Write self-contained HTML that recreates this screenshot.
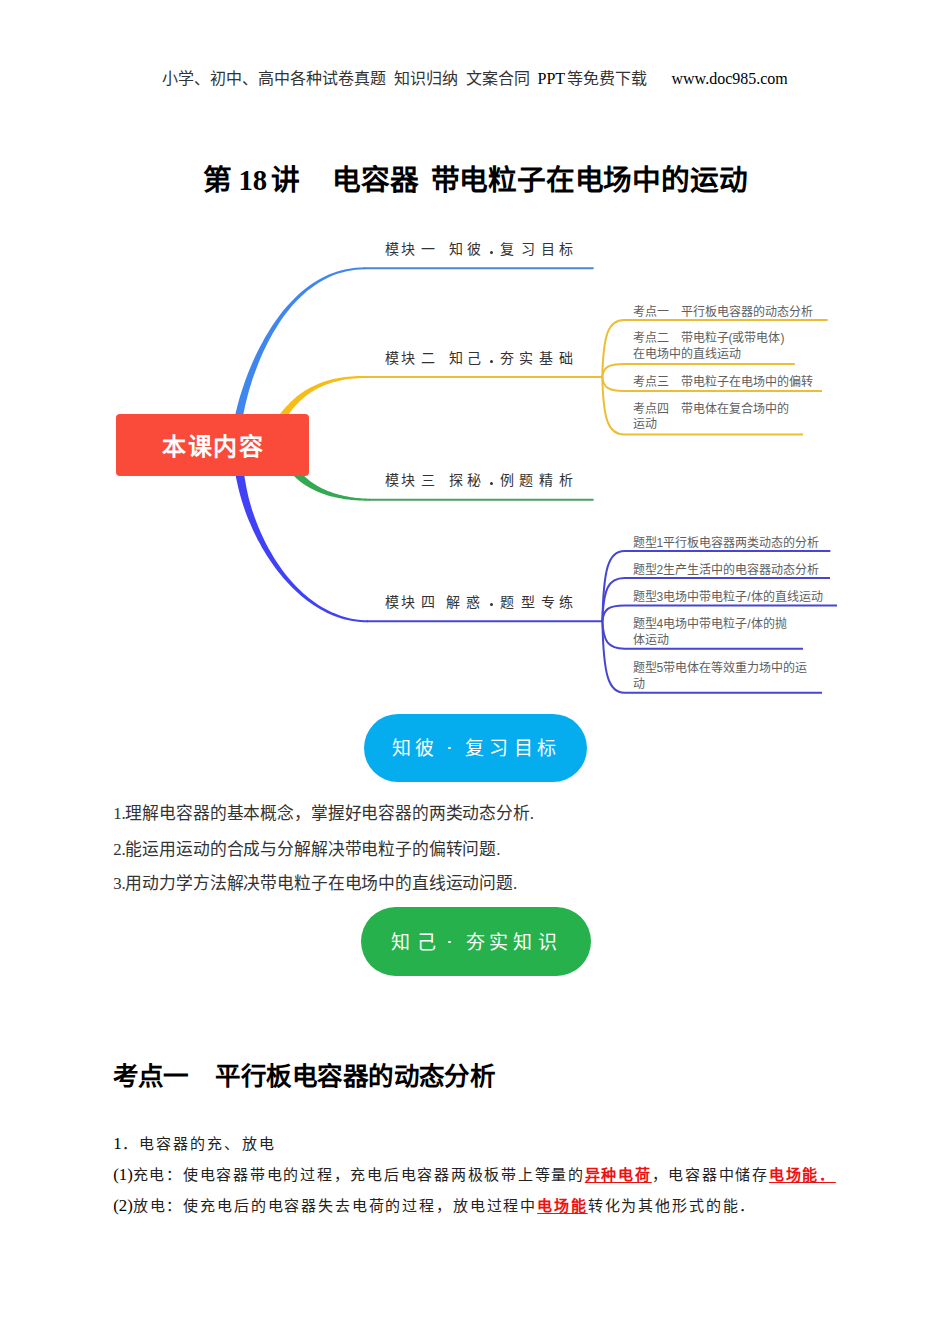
<!DOCTYPE html>
<html lang="zh-CN"><head><meta charset="utf-8"><title>第18讲 电容器 带电粒子在电场中的运动</title>
<style>
html,body{margin:0;padding:0;background:#fff}
body{width:950px;height:1344px;position:relative;overflow:hidden;color:#000}
.a{position:absolute;white-space:nowrap;line-height:1}
.sf{font-family:"Liberation Serif",serif}
.ss{font-family:"Liberation Sans",sans-serif}
.b{font-weight:bold}
.g{display:inline-block;width:12px}
.g2{display:inline-block;width:26.5px}
.sp{letter-spacing:0.2px}
.r{color:#EE1111;font-weight:bold;text-decoration:underline;text-decoration-thickness:1px;text-underline-offset:2px}
.C{font-size:15px;color:#222}
.L{letter-spacing:0}
</style></head><body>
<svg width="950" height="1344" viewBox="0 0 950 1344" style="position:absolute;left:0;top:0"><path d="M241.4,439.3 L241.3,438.4 L241.2,437.3 L241.1,436.0 L241.1,434.4 L241.1,432.6 L241.2,430.6 L241.4,428.5 L241.6,426.1 L241.9,423.6 L242.3,420.9 L242.7,418.1 L243.3,415.1 L243.8,412.0 L244.5,408.8 L245.2,405.5 L246.0,402.1 L246.9,398.5 L247.8,394.9 L248.8,391.2 L249.9,387.5 L251.1,383.7 L252.3,379.8 L253.7,375.8 L255.1,371.9 L256.6,367.9 L258.1,363.9 L259.8,359.8 L261.5,355.8 L263.3,351.7 L265.3,347.7 L267.2,343.7 L269.3,339.7 L271.5,335.7 L273.7,331.8 L276.1,327.9 L278.5,324.1 L281.0,320.3 L283.6,316.6 L286.3,313.0 L289.1,309.5 L291.9,306.1 L294.9,302.7 L298.0,299.5 L301.1,296.4 L304.4,293.4 L307.7,290.6 L311.2,287.9 L314.7,285.4 L318.3,283.0 L322.1,280.7 L325.9,278.7 L329.8,276.8 L333.9,275.1 L338.0,273.6 L342.2,272.4 L346.6,271.3 L351.0,270.4 L355.6,269.8 L360.2,269.4 L365.0,269.3 L365.0,267.3 L360.1,267.4 L355.4,267.8 L350.7,268.4 L346.1,269.2 L341.7,270.2 L337.3,271.5 L333.0,272.9 L328.9,274.6 L324.8,276.4 L320.8,278.5 L316.9,280.7 L313.2,283.1 L309.5,285.6 L305.9,288.3 L302.4,291.1 L299.0,294.1 L295.6,297.2 L292.4,300.4 L289.3,303.7 L286.3,307.1 L283.3,310.6 L280.4,314.3 L277.7,318.0 L275.0,321.7 L272.4,325.5 L269.9,329.4 L267.5,333.4 L265.1,337.3 L262.9,341.4 L260.7,345.4 L258.6,349.4 L256.6,353.5 L254.7,357.6 L252.9,361.6 L251.1,365.7 L249.4,369.7 L247.8,373.7 L246.3,377.7 L244.9,381.6 L243.6,385.4 L242.3,389.2 L241.1,393.0 L240.0,396.6 L238.9,400.2 L238.0,403.7 L237.1,407.1 L236.3,410.4 L235.5,413.6 L234.9,416.6 L234.3,419.6 L233.8,422.3 L233.3,425.0 L233.0,427.5 L232.7,429.9 L232.5,432.1 L232.3,434.1 L232.3,436.0 L232.3,437.8 L232.4,439.4 L232.6,440.7Z" fill="#3F87EF"/><path d="M364.0,268.3 L593.6,268.3" stroke="#4B85D2" stroke-width="2" fill="none"/><path d="M268.4,443.7 L269.3,442.8 L270.2,441.8 L271.1,440.7 L272.0,439.6 L272.8,438.5 L273.7,437.4 L274.5,436.2 L275.3,435.0 L276.1,433.8 L276.9,432.5 L277.7,431.3 L278.5,430.0 L279.3,428.7 L280.1,427.3 L281.0,426.0 L281.8,424.6 L282.7,423.2 L283.6,421.8 L284.5,420.4 L285.4,419.0 L286.3,417.6 L287.3,416.2 L288.3,414.8 L289.3,413.3 L290.4,411.9 L291.5,410.5 L292.6,409.1 L293.8,407.7 L295.0,406.2 L296.3,404.8 L297.6,403.5 L298.9,402.1 L300.3,400.7 L301.8,399.4 L303.3,398.1 L304.9,396.8 L306.5,395.5 L308.2,394.3 L309.9,393.0 L311.7,391.8 L313.6,390.7 L315.6,389.6 L317.6,388.5 L319.7,387.4 L321.9,386.4 L324.1,385.4 L326.4,384.5 L328.9,383.7 L331.4,382.8 L333.9,382.1 L336.6,381.4 L339.4,380.7 L342.2,380.1 L345.2,379.6 L348.2,379.1 L351.4,378.8 L354.6,378.4 L358.0,378.2 L361.4,378.1 L365.0,378.0 L365.0,376.0 L361.4,376.0 L357.9,376.1 L354.5,376.3 L351.2,376.5 L348.0,376.8 L344.8,377.1 L341.8,377.5 L338.9,378.0 L336.0,378.5 L333.2,379.1 L330.5,379.8 L327.9,380.5 L325.3,381.3 L322.8,382.1 L320.4,383.0 L318.1,383.9 L315.9,384.9 L313.7,385.9 L311.5,386.9 L309.5,388.0 L307.5,389.2 L305.5,390.3 L303.7,391.5 L301.9,392.8 L300.1,394.0 L298.4,395.3 L296.7,396.6 L295.1,398.0 L293.6,399.3 L292.1,400.7 L290.6,402.1 L289.2,403.5 L287.9,404.9 L286.5,406.3 L285.3,407.7 L284.0,409.1 L282.8,410.5 L281.6,411.9 L280.5,413.3 L279.4,414.7 L278.3,416.1 L277.3,417.4 L276.3,418.8 L275.3,420.1 L274.3,421.4 L273.3,422.7 L272.4,424.0 L271.5,425.2 L270.6,426.4 L269.7,427.5 L268.8,428.6 L268.0,429.7 L267.2,430.7 L266.3,431.7 L265.5,432.6 L264.7,433.4 L263.9,434.2 L263.2,435.0 L262.4,435.7 L261.6,436.3Z" fill="#F6BD16"/><path d="M364.0,377.0 L602.5,377.0" stroke="#EDBD35" stroke-width="2" fill="none"/><path d="M280.4,457.0 L281.2,458.5 L282.0,460.1 L282.9,461.6 L283.8,463.2 L284.7,464.6 L285.7,466.1 L286.6,467.5 L287.7,468.9 L288.7,470.2 L289.8,471.5 L290.9,472.8 L292.0,474.1 L293.2,475.3 L294.4,476.5 L295.6,477.6 L296.8,478.8 L298.1,479.8 L299.4,480.9 L300.7,481.9 L302.1,482.9 L303.4,483.9 L304.8,484.8 L306.2,485.7 L307.6,486.6 L309.1,487.4 L310.6,488.3 L312.0,489.1 L313.6,489.8 L315.1,490.5 L316.6,491.2 L318.2,491.9 L319.8,492.6 L321.4,493.2 L323.0,493.8 L324.6,494.3 L326.3,494.9 L328.0,495.4 L329.6,495.9 L331.3,496.4 L333.1,496.8 L334.8,497.2 L336.5,497.6 L338.3,498.0 L340.1,498.3 L341.8,498.6 L343.6,498.9 L345.4,499.2 L347.3,499.4 L349.1,499.6 L351.0,499.9 L352.8,500.0 L354.7,500.2 L356.6,500.3 L358.5,500.4 L360.4,500.5 L362.3,500.6 L364.2,500.7 L366.1,500.7 L368.1,500.7 L370.0,500.7 L370.0,498.7 L368.1,498.7 L366.2,498.6 L364.3,498.5 L362.4,498.4 L360.5,498.3 L358.6,498.1 L356.8,498.0 L354.9,497.7 L353.1,497.5 L351.3,497.2 L349.5,496.9 L347.7,496.6 L345.9,496.3 L344.2,495.9 L342.5,495.5 L340.7,495.1 L339.0,494.7 L337.4,494.2 L335.7,493.7 L334.1,493.2 L332.5,492.7 L330.9,492.1 L329.3,491.5 L327.7,490.9 L326.2,490.3 L324.7,489.6 L323.2,488.9 L321.7,488.2 L320.3,487.5 L318.9,486.7 L317.5,485.9 L316.1,485.1 L314.8,484.3 L313.5,483.4 L312.2,482.6 L310.9,481.7 L309.7,480.7 L308.5,479.8 L307.3,478.8 L306.1,477.8 L305.0,476.8 L303.9,475.8 L302.9,474.7 L301.8,473.6 L300.8,472.5 L299.9,471.4 L298.9,470.2 L298.0,469.0 L297.1,467.8 L296.3,466.6 L295.5,465.4 L294.7,464.1 L294.0,462.8 L293.2,461.5 L292.5,460.1 L291.9,458.8 L291.3,457.4 L290.7,456.0 L290.1,454.5 L289.6,453.0Z" fill="#34A853"/><path d="M369.0,499.7 L593.6,499.7" stroke="#48A060" stroke-width="2" fill="none"/><path d="M233.0,444.9 L233.0,448.7 L233.2,452.5 L233.4,456.4 L233.7,460.3 L234.1,464.2 L234.6,468.2 L235.2,472.2 L235.8,476.2 L236.6,480.2 L237.5,484.2 L238.4,488.2 L239.4,492.3 L240.5,496.3 L241.7,500.4 L243.0,504.4 L244.3,508.4 L245.7,512.4 L247.2,516.4 L248.8,520.4 L250.5,524.3 L252.2,528.3 L254.0,532.2 L255.9,536.0 L257.8,539.9 L259.9,543.6 L261.9,547.4 L264.1,551.1 L266.3,554.7 L268.6,558.3 L271.0,561.8 L273.4,565.3 L275.9,568.7 L278.4,572.0 L281.1,575.3 L283.7,578.5 L286.5,581.6 L289.3,584.6 L292.1,587.5 L295.0,590.3 L298.0,593.1 L301.0,595.7 L304.1,598.3 L307.3,600.7 L310.5,603.0 L313.7,605.2 L317.0,607.3 L320.3,609.3 L323.7,611.1 L327.2,612.9 L330.7,614.5 L334.2,615.9 L337.8,617.2 L341.4,618.4 L345.1,619.4 L348.8,620.3 L352.6,621.0 L356.4,621.6 L360.2,622.0 L364.1,622.2 L368.0,622.3 L368.0,620.3 L364.2,620.2 L360.4,619.9 L356.6,619.5 L352.9,618.9 L349.3,618.2 L345.7,617.3 L342.1,616.2 L338.6,615.0 L335.1,613.6 L331.7,612.2 L328.3,610.5 L325.0,608.8 L321.7,606.9 L318.5,604.9 L315.3,602.8 L312.2,600.6 L309.2,598.2 L306.2,595.8 L303.2,593.2 L300.4,590.5 L297.5,587.8 L294.8,584.9 L292.1,582.0 L289.4,579.0 L286.9,575.9 L284.3,572.7 L281.9,569.4 L279.5,566.1 L277.2,562.7 L274.9,559.2 L272.8,555.7 L270.7,552.1 L268.6,548.5 L266.6,544.8 L264.7,541.1 L262.9,537.3 L261.2,533.5 L259.5,529.7 L257.9,525.8 L256.4,522.0 L254.9,518.1 L253.5,514.1 L252.2,510.2 L251.0,506.3 L249.9,502.3 L248.8,498.4 L247.9,494.4 L247.0,490.5 L246.2,486.5 L245.5,482.6 L244.8,478.7 L244.3,474.8 L243.8,471.0 L243.4,467.2 L243.1,463.4 L242.9,459.7 L242.8,456.0 L242.8,452.3 L242.8,448.7 L243.0,445.1Z" fill="#4141F5"/><path d="M367.0,621.3 L602.5,621.3" stroke="#4646D2" stroke-width="2" fill="none"/><path d="M602.3,377.0 C603.3,334.2 608.3,320.0 624.3,320.0 L827.7,320.0" stroke="#EDBD35" stroke-width="2" fill="none"/><path d="M602.3,377.0 C603.3,367.2 608.3,364.0 624.3,364.0 L794.8,364.0" stroke="#EDBD35" stroke-width="2" fill="none"/><path d="M602.3,377.0 C603.3,387.5 608.3,391.0 624.3,391.0 L822.0,391.0" stroke="#EDBD35" stroke-width="2" fill="none"/><path d="M602.3,377.0 C603.3,420.1 608.3,434.5 624.3,434.5 L803.0,434.5" stroke="#EDBD35" stroke-width="2" fill="none"/><path d="M602.4,621.3 C603.4,568.6 608.4,551.0 624.4,551.0 L830.4,551.0" stroke="#4646D2" stroke-width="2" fill="none"/><path d="M602.4,621.3 C603.4,588.9 608.4,578.1 624.4,578.1 L830.0,578.1" stroke="#4646D2" stroke-width="2" fill="none"/><path d="M602.4,621.3 C603.4,609.4 608.4,605.4 624.4,605.4 L837.0,605.4" stroke="#4646D2" stroke-width="2" fill="none"/><path d="M602.4,621.3 C603.4,641.9 608.4,648.7 624.4,648.7 L803.0,648.7" stroke="#4646D2" stroke-width="2" fill="none"/><path d="M602.4,621.3 C603.4,674.9 608.4,692.7 624.4,692.7 L822.0,692.7" stroke="#4646D2" stroke-width="2" fill="none"/></svg>
<div class="a sf" style="left:162.3px;top:71.0px;font-size:16.00px;color:#333">小学、初中、高中各种试卷真题</div>
<div class="a sf" style="left:393.5px;top:71.0px;font-size:16.00px;color:#333">知识归纳</div>
<div class="a sf" style="left:466.0px;top:71.0px;font-size:16.00px;color:#333">文案合同</div>
<div class="a sf" style="left:537.5px;top:71.0px;font-size:16.00px;">PPT</div>
<div class="a sf" style="left:567.0px;top:71.0px;font-size:16.00px;color:#333">等免费下载</div>
<div class="a sf" style="left:671.5px;top:71.0px;font-size:16.00px;">www.doc985.com</div>
<div class="a sf b" style="left:202.5px;top:166.0px;font-size:28.70px;">第</div>
<div class="a sf b" style="left:238.5px;top:166.0px;font-size:28.70px;">18</div>
<div class="a sf b" style="left:270.5px;top:166.0px;font-size:28.70px;">讲</div>
<div class="a sf b" style="left:332.0px;top:166.0px;font-size:28.70px;">电容器</div>
<div class="a sf b" style="left:430.5px;top:166.0px;font-size:28.70px;letter-spacing:-0.2px">带电粒子在电场中的运动</div>
<div style="position:absolute;left:116px;top:413.5px;width:193px;height:62.5px;background:#FA4A3A;border-radius:4px"></div>
<div class="a ss b" style="left:162.0px;top:435.0px;font-size:24.00px;color:#fff;letter-spacing:1.6px">本课内容</div>
<div class="a ss" style="left:384.5px;top:241.8px;font-size:14.00px;color:#333">模</div><div class="a ss" style="left:401.0px;top:241.8px;font-size:14.00px;color:#333">块</div><div class="a ss" style="left:421.0px;top:241.8px;font-size:14.00px;color:#333">一</div><div class="a ss" style="left:449.0px;top:241.8px;font-size:14.00px;color:#333">知</div><div class="a ss" style="left:467.0px;top:241.8px;font-size:14.00px;color:#333">彼</div><div style="position:absolute;left:490.0px;top:251.0px;width:3.0px;height:3.0px;border-radius:50%;background:#333"></div><div class="a ss" style="left:499.5px;top:241.8px;font-size:14.00px;color:#333">复</div><div class="a ss" style="left:521.0px;top:241.8px;font-size:14.00px;color:#333">习</div><div class="a ss" style="left:541.0px;top:241.8px;font-size:14.00px;color:#333">目</div><div class="a ss" style="left:559.0px;top:241.8px;font-size:14.00px;color:#333">标</div>
<div class="a ss" style="left:384.5px;top:350.8px;font-size:14.00px;color:#333">模</div><div class="a ss" style="left:401.0px;top:350.8px;font-size:14.00px;color:#333">块</div><div class="a ss" style="left:421.0px;top:350.8px;font-size:14.00px;color:#333">二</div><div class="a ss" style="left:449.0px;top:350.8px;font-size:14.00px;color:#333">知</div><div class="a ss" style="left:467.0px;top:350.8px;font-size:14.00px;color:#333">己</div><div style="position:absolute;left:490.0px;top:360.0px;width:3.0px;height:3.0px;border-radius:50%;background:#333"></div><div class="a ss" style="left:499.5px;top:350.8px;font-size:14.00px;color:#333">夯</div><div class="a ss" style="left:519.0px;top:350.8px;font-size:14.00px;color:#333">实</div><div class="a ss" style="left:539.0px;top:350.8px;font-size:14.00px;color:#333">基</div><div class="a ss" style="left:559.0px;top:350.8px;font-size:14.00px;color:#333">础</div>
<div class="a ss" style="left:384.5px;top:473.3px;font-size:14.00px;color:#333">模</div><div class="a ss" style="left:401.0px;top:473.3px;font-size:14.00px;color:#333">块</div><div class="a ss" style="left:421.0px;top:473.3px;font-size:14.00px;color:#333">三</div><div class="a ss" style="left:449.0px;top:473.3px;font-size:14.00px;color:#333">探</div><div class="a ss" style="left:467.0px;top:473.3px;font-size:14.00px;color:#333">秘</div><div style="position:absolute;left:490.0px;top:482.0px;width:3.0px;height:3.0px;border-radius:50%;background:#333"></div><div class="a ss" style="left:499.5px;top:473.3px;font-size:14.00px;color:#333">例</div><div class="a ss" style="left:519.0px;top:473.3px;font-size:14.00px;color:#333">题</div><div class="a ss" style="left:539.0px;top:473.3px;font-size:14.00px;color:#333">精</div><div class="a ss" style="left:559.0px;top:473.3px;font-size:14.00px;color:#333">析</div>
<div class="a ss" style="left:384.5px;top:594.8px;font-size:14.00px;color:#333">模</div><div class="a ss" style="left:401.0px;top:594.8px;font-size:14.00px;color:#333">块</div><div class="a ss" style="left:421.0px;top:594.8px;font-size:14.00px;color:#333">四</div><div class="a ss" style="left:446.0px;top:594.8px;font-size:14.00px;color:#333">解</div><div class="a ss" style="left:466.0px;top:594.8px;font-size:14.00px;color:#333">惑</div><div style="position:absolute;left:490.0px;top:603.0px;width:3.0px;height:3.0px;border-radius:50%;background:#333"></div><div class="a ss" style="left:500.0px;top:594.8px;font-size:14.00px;color:#333">题</div><div class="a ss" style="left:521.0px;top:594.8px;font-size:14.00px;color:#333">型</div><div class="a ss" style="left:541.0px;top:594.8px;font-size:14.00px;color:#333">专</div><div class="a ss" style="left:559.0px;top:594.8px;font-size:14.00px;color:#333">练</div>
<div class="a ss" style="left:632.5px;top:305.5px;font-size:12.00px;color:#5e5e5e">考点一<span class="g"></span>平行板电容器的动态分析</div>
<div class="a ss" style="left:632.5px;top:332.0px;font-size:12.00px;color:#5e5e5e">考点二<span class="g"></span>带电粒子(或带电体)</div>
<div class="a ss" style="left:632.5px;top:348.0px;font-size:12.00px;color:#5e5e5e">在电场中的直线运动</div>
<div class="a ss" style="left:632.5px;top:375.5px;font-size:12.00px;color:#5e5e5e">考点三<span class="g"></span>带电粒子在电场中的偏转</div>
<div class="a ss" style="left:632.5px;top:402.5px;font-size:12.00px;color:#5e5e5e">考点四<span class="g"></span>带电体在复合场中的</div>
<div class="a ss" style="left:632.5px;top:418.0px;font-size:12.00px;color:#5e5e5e">运动</div>
<div class="a ss" style="left:632.5px;top:536.5px;font-size:12.00px;color:#5e5e5e">题型1平行板电容器两类动态的分析</div>
<div class="a ss" style="left:632.5px;top:564.0px;font-size:12.00px;color:#5e5e5e">题型2生产生活中的电容器动态分析</div>
<div class="a ss" style="left:632.5px;top:590.5px;font-size:12.00px;color:#5e5e5e">题型3电场中带电粒子/体的直线运动</div>
<div class="a ss" style="left:632.5px;top:617.5px;font-size:12.00px;color:#5e5e5e">题型4电场中带电粒子/体的抛</div>
<div class="a ss" style="left:632.5px;top:633.5px;font-size:12.00px;color:#5e5e5e">体运动</div>
<div class="a ss" style="left:632.5px;top:661.5px;font-size:12.00px;color:#5e5e5e">题型5带电体在等效重力场中的运</div>
<div class="a ss" style="left:632.5px;top:677.5px;font-size:12.00px;color:#5e5e5e">动</div>
<div style="position:absolute;left:363.5px;top:714px;width:223.5px;height:67.5px;background:#05ADEF;border-radius:34px"></div>
<div class="a ss" style="left:392.0px;top:738.5px;font-size:19.00px;color:#fff">知</div><div class="a ss" style="left:414.5px;top:738.5px;font-size:19.00px;color:#fff">彼</div><div style="position:absolute;left:448.3px;top:746.8px;width:2.4px;height:2.4px;border-radius:50%;background:#fff"></div><div class="a ss" style="left:464.5px;top:738.5px;font-size:19.00px;color:#fff">复</div><div class="a ss" style="left:489.0px;top:738.5px;font-size:19.00px;color:#fff">习</div><div class="a ss" style="left:514.0px;top:738.5px;font-size:19.00px;color:#fff">目</div><div class="a ss" style="left:537.0px;top:738.5px;font-size:19.00px;color:#fff">标</div>
<div style="position:absolute;left:360.5px;top:906.5px;width:230.5px;height:69px;background:#27B14D;border-radius:35px"></div>
<div class="a ss" style="left:390.5px;top:932.5px;font-size:19.00px;color:#fff">知</div><div class="a ss" style="left:417.0px;top:932.5px;font-size:19.00px;color:#fff">己</div><div style="position:absolute;left:448.3px;top:940.8px;width:2.4px;height:2.4px;border-radius:50%;background:#fff"></div><div class="a ss" style="left:465.5px;top:932.5px;font-size:19.00px;color:#fff">夯</div><div class="a ss" style="left:489.0px;top:932.5px;font-size:19.00px;color:#fff">实</div><div class="a ss" style="left:513.0px;top:932.5px;font-size:19.00px;color:#fff">知</div><div class="a ss" style="left:538.0px;top:932.5px;font-size:19.00px;color:#fff">识</div>
<div class="a sf" style="left:113.2px;top:806.0px;font-size:16.77px;letter-spacing:-0.15px;color:#333">1.理解电容器的基本概念，掌握好电容器的两类动态分析.</div>
<div class="a sf" style="left:113.2px;top:842.0px;font-size:16.77px;letter-spacing:-0.15px;color:#333">2.能运用运动的合成与分解解决带电粒子的偏转问题.</div>
<div class="a sf" style="left:113.2px;top:876.0px;font-size:16.77px;letter-spacing:-0.15px;color:#333">3.用动力学方法解决带电粒子在电场中的直线运动问题.</div>
<div class="a ss b" style="left:112.5px;top:1064.0px;font-size:25.55px;letter-spacing:-0.55px">考点一<span class="g2"></span>平行板电容器的动态分析</div>
<div class="a sf" style="left:113.2px;top:1135.7px;font-size:16.77px;"><span class="L">1</span><span class="C" style="letter-spacing:2.15px">．电容器的充、放电</span></div>
<div class="a sf" style="left:113.2px;top:1167.1px;font-size:16.77px;"><span class="L">(1)</span><span class="C" style="letter-spacing:1.74px">充电：使电容器带电的过程，充电后电容器两极板带上等量的<span class="r">异种电荷</span>，电容器中储存<span class="r">电场能．</span></span></div>
<div class="a sf" style="left:113.2px;top:1197.5px;font-size:16.77px;"><span class="L">(2)</span><span class="C" style="letter-spacing:1.85px">放电：使充电后的电容器失去电荷的过程，放电过程中<span class="r">电场能</span>转化为其他形式的能．</span></div>
</body></html>
